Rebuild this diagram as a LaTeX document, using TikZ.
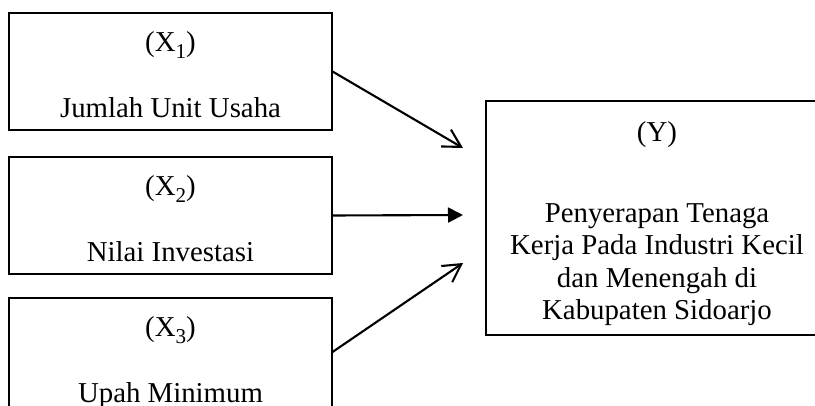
\documentclass[tikz,border=0pt]{standalone}
\usepackage{fontspec}
\setmainfont{Liberation Serif}
\usepackage{tikz}
\usetikzlibrary{arrows.meta,calc,positioning}
\tikzset{>=latex}
\newcommand{\subidx}[1]{\raisebox{-0.5ex}{\fontsize{12}{12}\selectfont #1}}

\begin{document}
\begin{tikzpicture}[
    varbox/.style={draw, line width=0.6pt, minimum width=6.46cm, minimum height=2.34cm, inner sep=0pt},
    ybox/.style={draw, line width=0.6pt, minimum width=6.84cm, minimum height=4.68cm, inner sep=0pt},
    lbl/.style={anchor=base, inner sep=0pt, font=\fontsize{16.4}{19}\selectfont},
    openarr/.style={line width=1.2pt, -{Straight Barb[length=3.5mm, width=3.9mm, line width=1.2pt]}},
    fillarr/.style={line width=1.2pt, -{Triangle[length=3mm, width=3mm]}}
  ]
  \useasboundingbox (0,0) rectangle (16.3,-8.12);
  \clip (0,0) rectangle (16.3,-8.12);

  % variabel bebas
  \foreach \i/\yc/\txt in {1/-1.43/Jumlah Unit Usaha, 2/-4.31/Nilai Investasi, 3/-7.13/Upah Minimum}
    {
      \node[varbox] (x\i) at (3.41,\yc) {};
      \node[lbl] (xn\i) at ($(x\i.north)+(0,-0.78)$) {(X\subidx{\i})};
      \node[lbl] (xt\i) at ($(x\i.north)+(0,-2.10)$) {\txt};
    }

  % variabel terikat
  \node[ybox] (y) at (13.14,-4.36) {};
  \node[lbl] (yn) at ($(y.north)+(0,-0.82)$) {(Y)};
  \foreach \j/\ln in {0/Penyerapan Tenaga, 1/Kerja Pada Industri Kecil, 2/dan Menengah di, 3/Kabupaten Sidoarjo}
    {
      \node[lbl] (yt\j) at ($(y.north)+(0,-2.44-0.646*\j)$) {\ln};
    }

  % ujung panah
  \coordinate (t1) at (9.26,-2.96);
  \coordinate (t2) at (9.26,-4.30);
  \coordinate (t3) at (9.26,-5.26);

  \draw[openarr] (x1.east) -- (t1);
  \draw[fillarr] (x2.east) -- (t2);
  \draw[openarr] ($(x3.east)+(0,0.09)$) -- (t3);
\end{tikzpicture}
\end{document}
